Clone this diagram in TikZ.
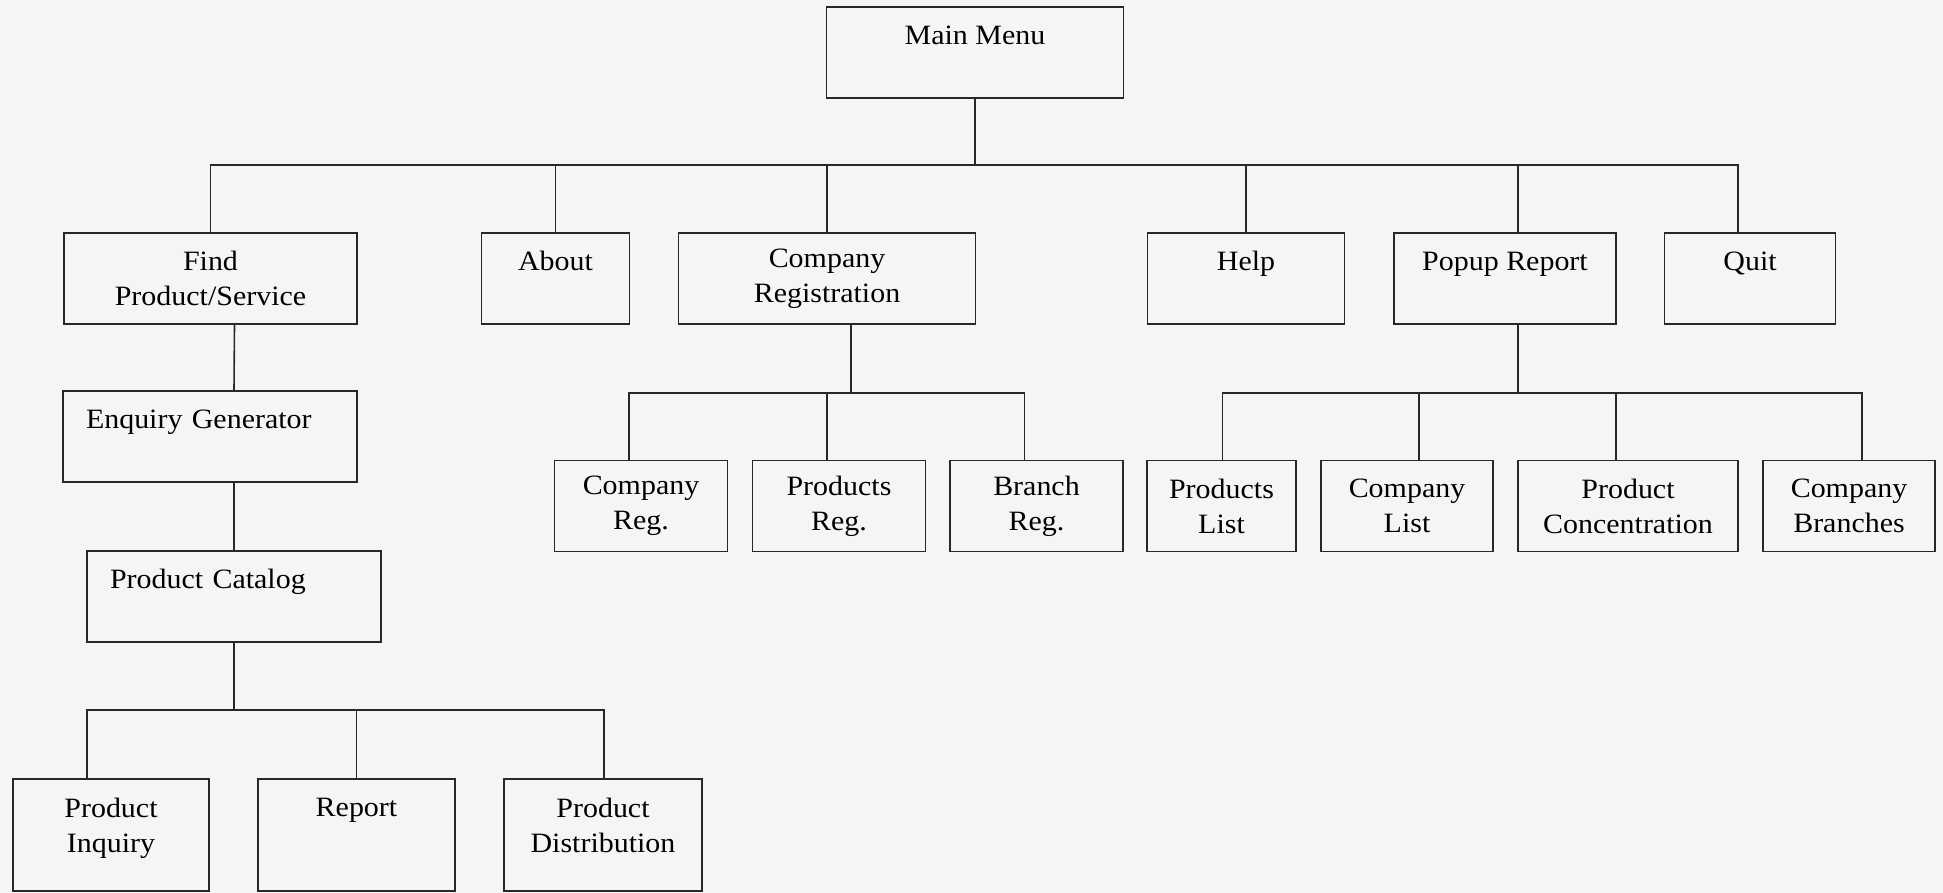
\documentclass[tikz,border=0pt]{standalone}
\usepackage{fontspec}
\setmainfont{Liberation Serif}[FakeStretch=1.07]
\usetikzlibrary{positioning,calc}
\definecolor{InkGray}{RGB}{40,40,40}
\definecolor{PaperGray}{RGB}{244,245,247}
\tikzset{
	box/.style={draw=InkGray,line width=0.8pt,inner sep=0pt,align=center,
		minimum height=45.5pt,font=\fontsize{14}{17.5}\selectfont},
	lbox/.style={box,align=left,inner xsep=11.5pt,text width=#1},
	tall/.style={box,minimum height=56pt},
	link/.style={draw=InkGray,line width=0.8pt},
}
\begin{document}
\begin{tikzpicture}[x=0.5pt,y=-0.5pt]
	\useasboundingbox (0,0) rectangle (1943,893);
	\fill[PaperGray] (0,0) rectangle (1943,893);
	% top level
	\node[box,minimum width=148.5pt] (main) at (975,52.5) {Main Menu\\\mbox{}};
	\node[box,minimum width=146.5pt] (find) at (210.5,278.5) {Find\\Product/Service};
	\node[box,minimum width=74pt] (about) at (555.5,278.5) {About\\\mbox{}};
	\node[box,minimum width=148.5pt] (compreg) at (827,278.5) {Company\\Registration};
	\node[box,minimum width=98.5pt] (help) at (1246,278.5) {Help\\\mbox{}};
	\node[box,minimum width=111pt] (popup) at (1505,278.5) {Popup Report\\\mbox{}};
	\node[box,minimum width=85.5pt] (quit) at (1750,278.5) {Quit\\\mbox{}};
	% find branch
	\node[lbox=124pt] (enquiry) at (210,436.5) {Enquiry Generator\\\mbox{}};
	\node[lbox=124pt] (catalog) at (234,596.5) {Product Catalog\\\mbox{}};
	\node[tall,minimum width=98pt] (pinq) at (111,835) {Product\\Inquiry\\[-7.5pt]\mbox{}};
	\node[tall,minimum width=98.5pt] (report) at (356.5,835) {Report\\\mbox{}\\[-7.5pt]\mbox{}};
	\node[tall,minimum width=98.75pt] (pdist) at (603,835) {Product\\Distribution\\[-7.5pt]\mbox{}};
	% registration branch
	\node[box,minimum width=86.5pt] (creg) at (641,506) {Company\\Reg.};
	\node[box,minimum width=86.5pt] (preg) at (839,506) {Products\\Reg.};
	\node[box,minimum width=86.5pt] (breg) at (1036.5,506) {Branch\\Reg.};
	% report branch
	\node[box,minimum width=74.25pt] (plist) at (1221.5,506) {Products\\List};
	\node[box,minimum width=86.25pt] (clist) at (1407,506) {Company\\List};
	\node[box,minimum width=110pt] (pconc) at (1628,506) {Product\\Concentration};
	\node[box,minimum width=86.25pt] (cbranch) at (1849,506) {Company\\Branches};
	% connectors
	\coordinate (top) at (975,165);
	\draw[link] (main) -- (top);
	\foreach \n/\s in {find/0,about/0,compreg/0,help/0,popup/6.5,quit/-6}
		\draw[link] (top) -| ([xshift=\s pt]\n.north);
	\draw[link] ([xshift=12pt]find.south) -- ([xshift=12pt]enquiry.north);
	\draw[link] ([xshift=12pt]enquiry.south) -- (catalog.north);
	\coordinate (catbus) at (234,710);
	\draw[link] (catalog) -- (catbus);
	\foreach \n/\s in {pinq/-12,report/0,pdist/0.5}
		\draw[link] (catbus) -| ([xshift=\s pt]\n.north);
	\coordinate (regbus) at (851,393);
	\draw[link] ([xshift=12pt]compreg.south) -- (regbus);
	\foreach \n in {creg,preg,breg}
		\draw[link] (regbus) -| ([xshift=-6pt]\n.north);
	\coordinate (popbus) at (1518,393);
	\draw[link] ([xshift=6.5pt]popup.south) -- (popbus);
	\foreach \n/\s in {plist/0.5,clist/6,pconc/-6,cbranch/6.5}
		\draw[link] (popbus) -| ([xshift=\s pt]\n.north);
\end{tikzpicture}
\end{document}
